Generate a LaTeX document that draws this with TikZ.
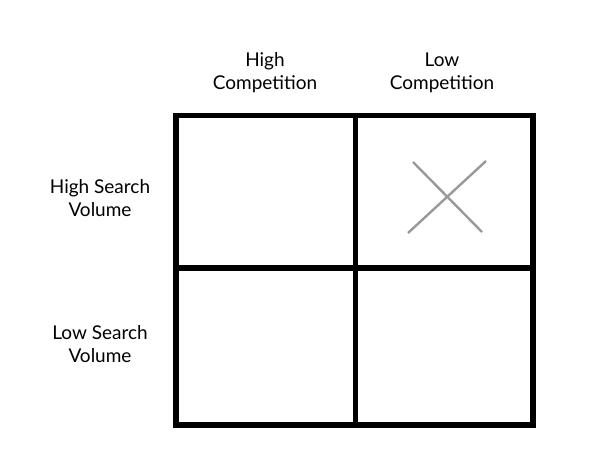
\documentclass[tikz,border=0pt]{standalone}
\usepackage{fontspec}
\setmainfont{Lato}
\tikzset{
  label/.style={align=center, font=\fontsize{19}{23}\selectfont},
  cell/.style={line width=5.5pt},
  cross/.style={line width=2.4pt, draw=gray!80}
}
\begin{document}
\begin{tikzpicture}[x=1pt,y=-1pt]
\useasboundingbox (0,0) rectangle (615,471);
\draw[cell] (176,115.5) rectangle (533,425);
\draw[cell] (355.5,115.5)--(355.5,425);
\draw[cell] (176,268)--(533,268);
\draw[cross] (413,162)--(482,232);
\draw[cross] (486,161)--(408,233);
\node[label] (hc) at (265,73) {High\\Competition};
\node[label] (lc) at (442,73) {Low\\Competition};
\node[label] (hs) at (100,198) {High Search\\Volume};
\node[label] (ls) at (100,344) {Low Search\\Volume};
\end{tikzpicture}
\end{document}
